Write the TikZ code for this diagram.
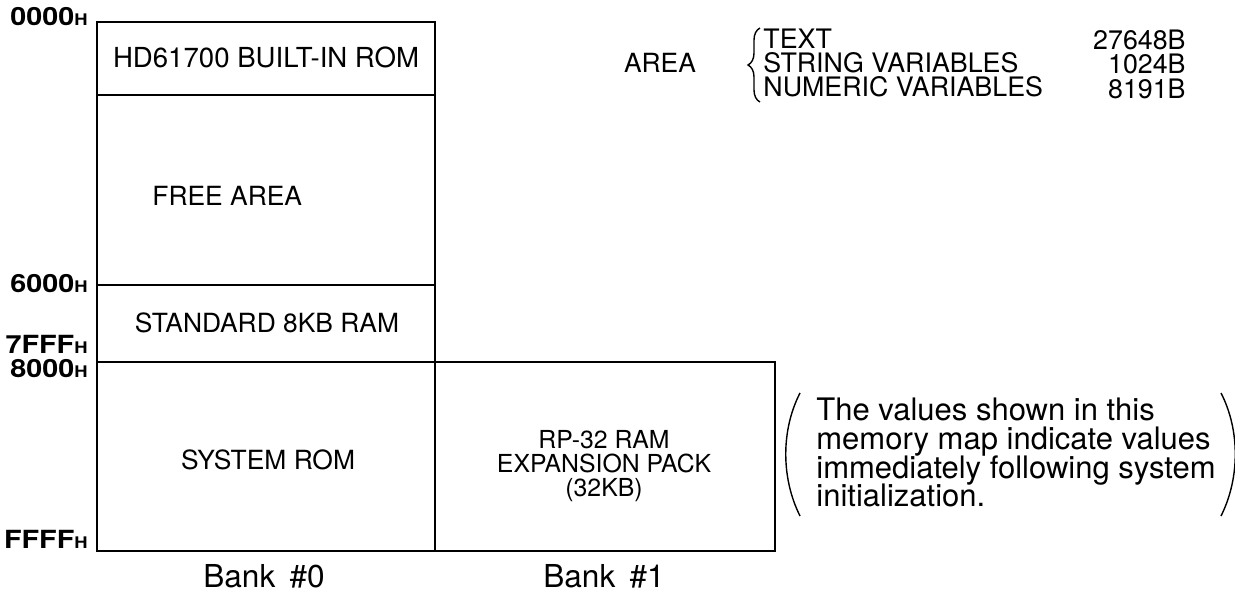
\documentclass[tikz,border=0pt]{standalone}
\usepackage{fontspec}
\usepackage{graphicx}
\setmainfont{TeX Gyre Heros}
\usetikzlibrary{decorations.pathreplacing}
\begin{document}
\begin{tikzpicture}[x=0.5pt,y=-0.5pt,
  box/.style={draw=black,line width=1pt},
  big/.style={font=\fontsize{13.2pt}{15pt}\selectfont,inner sep=0pt},
  mid/.style={font=\fontsize{12.4pt}{13pt}\selectfont,inner sep=0pt},
  bank/.style={font=\fontsize{15.8pt}{17pt}\selectfont,inner sep=0pt},
  addr/.style={font=\fontsize{12.5pt}{14pt}\bfseries\selectfont,inner sep=0pt,anchor=east},
  note/.style={font=\fontsize{15.5pt}{17pt}\selectfont,inner sep=0pt,anchor=base west},
  area/.style={font=\fontsize{13.4pt}{15pt}\selectfont,inner sep=0pt,anchor=west}]
\useasboundingbox (0,0) rectangle (1235,592);
\newcommand{\hexlbl}[1]{\scalebox{1.15}[1]{#1{\fontsize{8pt}{8pt}\selectfont H}}}
% boxes
\draw[box] (97,22) rectangle (435,95);
\draw[box] (97,95) rectangle (435,285);
\draw[box] (97,285) rectangle (435,362);
\draw[box] (97,362) rectangle (435,551);
\draw[box] (435,362) rectangle (775,551);
% box texts
\node[big,font=\fontsize{13.8pt}{15pt}\selectfont] (rom) at (266,57) {HD61700 BUILT-IN ROM};
\node[big,anchor=west] (free) at (152,196) {FREE AREA};
\node[big] (ram) at (267,323) {STANDARD 8KB RAM};
\node[big] (sys) at (268,460) {SYSTEM ROM};
\node[mid,align=center] (rp) at (604,466) {RP-32 RAM\\[-1pt]EXPANSION PACK\\[-1pt](32KB)};
\node[bank] (b0) at (264,576) {Bank\hspace{0.45em}\#0};
\node[bank] (b1) at (604,576) {Bank\hspace{0.45em}\#1};
% addresses
\node[addr] (a0) at (88,17) {\hexlbl{0000}};
\node[addr] (a6) at (88,284) {\hexlbl{6000}};
\node[addr] (a7) at (88,344) {\hexlbl{7FFF}};
\node[addr] (a8) at (88,369) {\hexlbl{8000}};
\node[addr] (af) at (88,539) {\hexlbl{FFFF}};
% area
\node[big] (area) at (660,63) {AREA};
\draw[line width=0.7pt,decorate,decoration={brace,amplitude=6pt,mirror}] (760,28) -- (760,102);
\node[area] (t1) at (763,39) {TEXT};
\node[area] (t2) at (763,63) {STRING VARIABLES};
\node[area] (t3) at (763,87) {NUMERIC VARIABLES};
\node[area,anchor=east] (v1) at (1186,40) {27648B};
\node[area,anchor=east] (v2) at (1186,64) {1024B};
\node[area,anchor=east] (v3) at (1186,89) {8191B};
% note
\draw[line width=0.7pt] (800,393) .. controls (781,430) and (781,478) .. (800,516);
\draw[line width=0.7pt] (1221,393) .. controls (1240,430) and (1240,478) .. (1221,516);
\node[note] (n1) at (816,421) {The values shown in this};
\node[note] (n2) at (816,449.5) {memory map indicate values};
\node[note] (n3) at (816,478) {immediately following system};
\node[note] (n4) at (816,506.5) {initialization.};
\end{tikzpicture}
\end{document}
